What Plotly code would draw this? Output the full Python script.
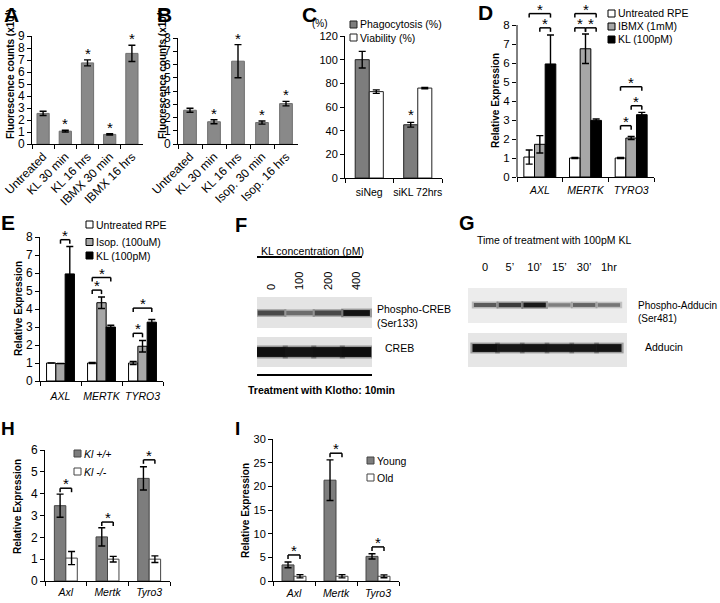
import plotly.graph_objects as go

W, H = 720, 603
FONT = "Liberation Sans, Arial, Helvetica, sans-serif"

# ---------------- data ----------------
A_labels = ["Untreated", "KL 30 min", "KL 16 hrs", "IBMX 30 min", "IBMX 16 hrs"]
A_values = [2.55, 1.07, 6.76, 0.80, 7.55]
A_errors = [0.18, 0.07, 0.25, 0.05, 0.68]
A_signif = [0, 1, 1, 1, 1]

B_labels = ["Untreated", "KL 30 min", "KL 16 hrs", "Isop. 30 min", "Isop. 16 hrs"]
B_values = [2.55, 1.68, 6.25, 1.62, 3.05]
B_errors = [0.15, 0.15, 1.25, 0.12, 0.17]
B_signif = [0, 1, 1, 1, 1]

C_labels = ["siNeg", "siKL 72hrs"]
C_phago = [100, 45]
C_phago_err = [7, 2]
C_viab = [73, 76]
C_viab_err = [1.5, 0.6]
C_phago_signif = [0, 1]

D_genes = ["AXL", "MERTK", "TYRO3"]
D_untreated = [1.05, 1.0, 1.0]
D_untreated_err = [0.37, 0.03, 0.03]
D_ibmx = [1.72, 6.75, 2.05]
D_ibmx_err = [0.46, 0.78, 0.08]
D_kl = [5.95, 2.98, 3.28]
D_kl_err = [1.52, 0.07, 0.12]
# (gene index, series a, series b, bracket level)
D_pairs = [(0, 0, 2, 8.6), (0, 1, 2, 7.85),
           (1, 0, 2, 8.6), (1, 0, 1, 7.85), (1, 1, 2, 7.85),
           (2, 0, 2, 4.75), (2, 1, 2, 3.75), (2, 0, 1, 2.7)]

E_genes = ["AXL", "MERTK", "TYRO3"]
E_untreated = [1.0, 1.0, 1.0]
E_untreated_err = [0.0, 0.03, 0.08]
E_isop = [0.97, 4.35, 1.93]
E_isop_err = [0.0, 0.32, 0.32]
E_kl = [5.95, 3.0, 3.27]
E_kl_err = [1.52, 0.1, 0.15]
E_pairs = [(0, 1, 2, 7.85), (1, 0, 2, 5.75), (1, 0, 1, 5.05),
           (2, 0, 2, 4.05), (2, 0, 1, 2.65)]

F_lanes = ["0", "100", "200", "400"]
F_phospho = [0.65, 0.45, 0.65, 0.95]
F_total = [0.97, 0.95, 0.96, 0.98]

G_lanes = ["0", "5\u2019", "10\u2019", "15\u2019", "30\u2019", "1hr"]
G_phospho = [0.55, 0.72, 0.92, 0.35, 0.5, 0.4]
G_total = [0.97, 0.93, 0.94, 0.93, 0.93, 0.94]

H_genes = ["Axl", "Mertk", "Tyro3"]
H_wt = [3.45, 2.02, 4.7]
H_wt_err = [0.53, 0.42, 0.53]
H_ko = [1.05, 1.0, 1.0]
H_ko_err = [0.3, 0.13, 0.15]
H_levels = [4.25, 2.7, 5.55]

I_genes = ["Axl", "Mertk", "Tyro3"]
I_young = [3.4, 21.3, 5.2]
I_young_err = [0.6, 4.3, 0.55]
I_old = [1.0, 1.0, 1.0]
I_old_err = [0.35, 0.35, 0.3]
I_levels = [5.5, 27.0, 7.2]

# ---------------- helpers ----------------
fig = go.Figure()
axes_layout = {}
shapes = []
annots = []


def refs(n):
    s = "" if n == 1 else str(n)
    return "x" + s, "y" + s, "xaxis" + s, "yaxis" + s


def make_axes(n, left, right, top, bottom, xrange, yrange, xextra=None, yextra=None):
    xr, yr, xk, yk = refs(n)
    base = dict(showgrid=False, zeroline=False, showline=True, linecolor="black",
                linewidth=1, ticks="outside", ticklen=4, tickcolor="black",
                tickwidth=1, fixedrange=True, automargin=False)
    xa = dict(base, domain=[left / W, right / W], anchor=yr, range=xrange, tickangle=0,
              tickfont=dict(family=FONT, size=11, color="black"))
    ya = dict(base, domain=[1 - bottom / H, 1 - top / H], anchor=xr, range=yrange,
              tickfont=dict(family=FONT, size=12, color="black"))
    xa.update(xextra or {})
    ya.update(yextra or {})
    axes_layout[xk] = xa
    axes_layout[yk] = ya
    return xr, yr


def bars(xr, yr, cats, series, gap, errw=3.5):
    m = len(series)
    w = (1 - gap) / m
    centers = []
    for i, s in enumerate(series):
        off = -(1 - gap) / 2 + i * w
        fig.add_trace(go.Bar(
            x=cats, y=s["y"], width=[w] * len(cats), offset=off, name=s.get("name", ""),
            marker=dict(color=s["fill"], line=dict(color=s["edge"], width=1)),
            error_y=dict(type="data", array=s["err"], visible=True, color="black",
                         thickness=1.4, width=errw),
            xaxis=xr, yaxis=yr, showlegend=False, hoverinfo="skip"))
        centers.append(off + w / 2)
    return centers


def star(xr, yr, x, y, shift=-5, size=15):
    annots.append(dict(text="*", x=x, y=y, xref=xr, yref=yr, showarrow=False,
                       yanchor="bottom", yshift=shift,
                       font=dict(family=FONT, size=size, color="black")))


def bracket(xr, yr, xa, xb, level, tick=4):
    shapes.append(dict(type="line", xref=xr, yref=yr, x0=xa, x1=xb, y0=level, y1=level,
                       line=dict(color="black", width=1.5)))
    for xx in (xa, xb):
        shapes.append(dict(type="line", xref=xr, yref=yr, x0=xx, x1=xx,
                           ysizemode="pixel", yanchor=level, y0=0, y1=-tick,
                           line=dict(color="black", width=1.5)))
    star(xr, yr, (xa + xb) / 2, level, shift=-6)


def text(x, y, s, size=10.5, xanchor="left", yanchor="middle", angle=0, bold=False):
    if bold:
        s = "<b>" + s + "</b>"
    annots.append(dict(text=s, x=x / W, y=1 - y / H, xref="paper", yref="paper",
                       xanchor=xanchor, yanchor=yanchor, textangle=angle, showarrow=False,
                       align="left", font=dict(family=FONT, size=size, color="black")))


def key(x, y, fill, edge, label, size=10.5, box=7):
    shapes.append(dict(type="rect", xref="paper", yref="paper",
                       x0=x / W, x1=(x + box) / W, y0=1 - (y + box / 2) / H, y1=1 - (y - box / 2) / H,
                       fillcolor=fill, line=dict(color=edge, width=1)))
    text(x + box + 1, y, label, size=size)


def prect(x0, y0, x1, y1, fill):
    shapes.append(dict(type="rect", xref="paper", yref="paper", layer="below",
                       x0=x0 / W, x1=x1 / W, y0=1 - y1 / H, y1=1 - y0 / H,
                       fillcolor=fill, line=dict(width=0)))


def pline(x0, y0, x1, y1, w=2):
    shapes.append(dict(type="line", xref="paper", yref="paper",
                       x0=x0 / W, x1=x1 / W, y0=1 - y0 / H, y1=1 - y1 / H,
                       line=dict(color="black", width=w)))


def bands(xr, yr, row, intens, width_px, thick_px):
    n = len(intens)
    xs = list(range(n))
    levels = [int(round(190 - 180 * v)) for v in intens]
    thick = [thick_px * (0.55 + 0.45 * v) for v in intens]
    halo = ["rgba(%d,%d,%d,0.35)" % (g, g, g) for g in levels]
    core = ["rgb(%d,%d,%d)" % (g, g, g) for g in levels]
    fig.add_trace(go.Scatter(x=xs, y=[row] * n, mode="markers", xaxis=xr, yaxis=yr,
                             marker=dict(symbol="line-ew", size=width_px,
                                         line=dict(color=halo, width=[t + 3 for t in thick])),
                             showlegend=False, hoverinfo="skip"))
    fig.add_trace(go.Scatter(x=xs, y=[row] * n, mode="markers", xaxis=xr, yaxis=yr,
                             marker=dict(symbol="line-ew", size=width_px - 3,
                                         line=dict(color=core, width=thick)),
                             showlegend=False, hoverinfo="skip"))


GRAY_AB = "#898989"
GRAY_DARK = "#7d7d7d"
GRAY_LIGHT = "#a7a7a7"

# ---------------- A ----------------
xr, yr = make_axes(1, 32, 143, 36, 144, [-0.5, 4.5], [0, 9],
                   xextra=dict(tickson="boundaries", tickangle=-45,
                               tickfont=dict(family=FONT, size=12, color="black")),
                   yextra=dict(dtick=1))
bars(xr, yr, A_labels, [dict(y=A_values, err=A_errors, fill=GRAY_AB, edge="#6f6f6f")], 0.45)
for i, s in enumerate(A_signif):
    if s:
        star(xr, yr, i, A_values[i] + A_errors[i], shift=-4)
text(10, 74, "Fluorescence counts (x10<sup>4</sup>)", size=10, xanchor="center", angle=-90, bold=True)

# ---------------- B ----------------
xr, yr = make_axes(2, 178, 298, 38, 144, [-0.5, 4.5], [0, 8],
                   xextra=dict(tickson="boundaries", tickangle=-45,
                               tickfont=dict(family=FONT, size=12, color="black")),
                   yextra=dict(dtick=1))
bars(xr, yr, B_labels, [dict(y=B_values, err=B_errors, fill=GRAY_AB, edge="#6f6f6f")], 0.47)
for i, s in enumerate(B_signif):
    if s:
        star(xr, yr, i, B_values[i] + B_errors[i], shift=-4)
text(162, 74, "Fluorescence counts (x10<sup>4</sup>)", size=10, xanchor="center", angle=-90, bold=True)

# ---------------- C ----------------
xr, yr = make_axes(3, 345, 442, 36, 178, [-0.5, 1.5], [0, 120],
                   xextra=dict(tickson="boundaries", ticklabelstandoff=4,
                               tickfont=dict(family=FONT, size=10.5, color="black")),
                   yextra=dict(dtick=20, tickfont=dict(family=FONT, size=11, color="black")))
cC = bars(xr, yr, C_labels, [dict(y=C_phago, err=C_phago_err, fill=GRAY_DARK, edge="#222222"),
                             dict(y=C_viab, err=C_viab_err, fill="white", edge="#222222")], 0.42)
for i, s in enumerate(C_phago_signif):
    if s:
        star(xr, yr, i + cC[0], C_phago[i] + C_phago_err[i], shift=-3)
text(320, 23, "(%)", size=10, xanchor="center")
key(350, 24.5, GRAY_DARK, "#222222", "Phagocytosis (%)", size=10.5)
key(350, 37.5, "white", "#222222", "Viability (%)", size=10.5)

# ---------------- D ----------------
xr, yr = make_axes(4, 517, 654, 1, 177, [-0.5, 2.5], [0, 176 / 19.0],
                   xextra=dict(tickson="boundaries", ticklabelstandoff=3,
                               tickfont=dict(family=FONT, size=10.5, color="black", style="italic")),
                   yextra=dict(tickvals=list(range(0, 9)), showline=False,
                               tickfont=dict(family=FONT, size=11.5, color="black")))
pline(517, 177, 517, 25, w=1)
cD = bars(xr, yr, D_genes, [dict(y=D_untreated, err=D_untreated_err, fill="white", edge="black"),
                            dict(y=D_ibmx, err=D_ibmx_err, fill=GRAY_LIGHT, edge="black"),
                            dict(y=D_kl, err=D_kl_err, fill="black", edge="black")], 0.30)
for g, a, b, lev in D_pairs:
    bracket(xr, yr, g + cD[a], g + cD[b], lev)
text(495, 101, "Relative Expression", size=10, xanchor="center", angle=-90, bold=True)
key(608, 13.5, "white", "black", "Untreated RPE")
key(608, 26.5, GRAY_LIGHT, "black", "IBMX (1mM)")
key(608, 39.5, "black", "black", "KL (100pM)")

# ---------------- E ----------------
xr, yr = make_axes(5, 40, 163, 237, 381, [-0.5, 2.5], [0, 8],
                   xextra=dict(tickson="boundaries", ticklabelstandoff=5,
                               tickfont=dict(family=FONT, size=10.5, color="black", style="italic")),
                   yextra=dict(dtick=1))
cE = bars(xr, yr, E_genes, [dict(y=E_untreated, err=E_untreated_err, fill="white", edge="black"),
                            dict(y=E_isop, err=E_isop_err, fill=GRAY_LIGHT, edge="black"),
                            dict(y=E_kl, err=E_kl_err, fill="black", edge="black")], 0.32)
for g, a, b, lev in E_pairs:
    bracket(xr, yr, g + cE[a], g + cE[b], lev)
text(18, 309, "Relative Expression", size=10, xanchor="center", angle=-90, bold=True)
key(86, 224.5, "white", "black", "Untreated RPE")
key(86, 242, GRAY_LIGHT, "black", "Isop. (100uM)")
key(86, 255.5, "black", "black", "KL (100pM)")

# ---------------- F (western blot) ----------------
xr, yr = make_axes(8, 257, 372, 297, 367, [-0.49, 3.54], [-0.3846, 1.4103],
                   xextra=dict(side="top", tickvals=list(range(len(F_lanes))), ticktext=F_lanes,
                               tickangle=-90, ticks="", showline=False, ticklabelstandoff=6,
                               tickfont=dict(family=FONT, size=11, color="black")),
                   yextra=dict(visible=False))
prect(257, 297, 372, 328, "#e4e4e4")
prect(257, 337, 372, 367, "#e2e2e2")
bands(xr, yr, 1, F_phospho, 22, 6)
bands(xr, yr, 0, F_total, 24, 10)
pline(257, 257, 362, 257, w=2)
pline(257, 375, 372, 375, w=2)
text(312, 251, "KL concentration (pM)", size=10.5, xanchor="center")
text(375, 316, "Phospho-CREB<br>(Ser133)", size=10.5)
text(383, 348, "CREB", size=10.5)
text(321, 390, "Treatment with Klotho: 10min", size=10.5, xanchor="center", bold=True)

# ---------------- G (western blot) ----------------
xr, yr = make_axes(9, 468, 627, 288, 367, [-0.69, 5.73], [-0.4419, 1.3953],
                   xextra=dict(side="top", tickvals=list(range(len(G_lanes))), ticktext=G_lanes,
                               ticks="", showline=False, ticklabelstandoff=14,
                               tickfont=dict(family=FONT, size=11, color="black")),
                   yextra=dict(visible=False))
prect(468, 288, 627, 323, "#ececec")
prect(468, 333, 627, 367, "#e6e6e6")
bands(xr, yr, 1, G_phospho, 19, 5)
bands(xr, yr, 0, G_total, 21, 8)
text(554, 240, "Time of treatment with 100pM KL", size=10.5, xanchor="center")
text(636, 312, "Phospho-Adducin<br>(Ser481)", size=10)
text(643, 347, "Adducin", size=10.5)

# ---------------- H ----------------
xr, yr = make_axes(6, 45, 170, 450, 581, [-0.5, 2.5], [0, 6],
                   xextra=dict(tickson="boundaries", ticklabelstandoff=1,
                               tickfont=dict(family=FONT, size=10.5, color="black", style="italic")),
                   yextra=dict(dtick=1))
cH = bars(xr, yr, H_genes, [dict(y=H_wt, err=H_wt_err, fill=GRAY_DARK, edge="#444444"),
                            dict(y=H_ko, err=H_ko_err, fill="white", edge="#444444")], 0.45)
for g, lev in enumerate(H_levels):
    bracket(xr, yr, g + cH[0], g + cH[1], lev)
text(18, 507, "Relative Expression", size=10, xanchor="center", angle=-90, bold=True)
key(74, 453.5, GRAY_DARK, "#444444", "<i>Kl +/+</i>")
key(74, 471.5, "white", "#444444", "<i>Kl -/-</i>")

# ---------------- I ----------------
xr, yr = make_axes(7, 273, 399, 439, 581, [-0.5, 2.5], [0, 30],
                   xextra=dict(tickson="boundaries", ticklabelstandoff=2,
                               tickfont=dict(family=FONT, size=10.5, color="black", style="italic")),
                   yextra=dict(dtick=5, tickfont=dict(family=FONT, size=11, color="black")))
cI = bars(xr, yr, I_genes, [dict(y=I_young, err=I_young_err, fill=GRAY_DARK, edge="#444444"),
                            dict(y=I_old, err=I_old_err, fill="white", edge="#444444")], 0.43)
for g, lev in enumerate(I_levels):
    bracket(xr, yr, g + cI[0], g + cI[1], lev)
text(245, 511, "Relative Expression", size=10, xanchor="center", angle=-90, bold=True)
key(367, 460.5, GRAY_DARK, "#444444", "Young")
key(367, 477.5, "white", "#444444", "Old")

# ---------------- panel letters ----------------
for lx, ly, L, sz in [(11.5, 14.5, "A", 21), (164.5, 14.5, "B", 21), (309.5, 14.5, "C", 21),
                      (485, 12, "D", 21), (7.5, 222.5, "E", 21), (241, 224.5, "F", 20),
                      (466.5, 223, "G", 20), (7.5, 428.5, "H", 19), (237, 428, "I", 19)]:
    text(lx, ly, L, size=sz, xanchor="center", bold=True)

fig.update_layout(template="none", width=W, height=H, margin=dict(l=0, r=0, t=0, b=0, pad=0),
                  paper_bgcolor="white", plot_bgcolor="rgba(0,0,0,0)",
                  showlegend=False, font=dict(family=FONT, size=11, color="black"),
                  shapes=shapes, annotations=annots, **axes_layout)
fig.write_html("out.html", config={"displayModeBar": False, "staticPlot": True},
               post_script="document.body.style.margin='0px';document.body.style.overflow='hidden';")
